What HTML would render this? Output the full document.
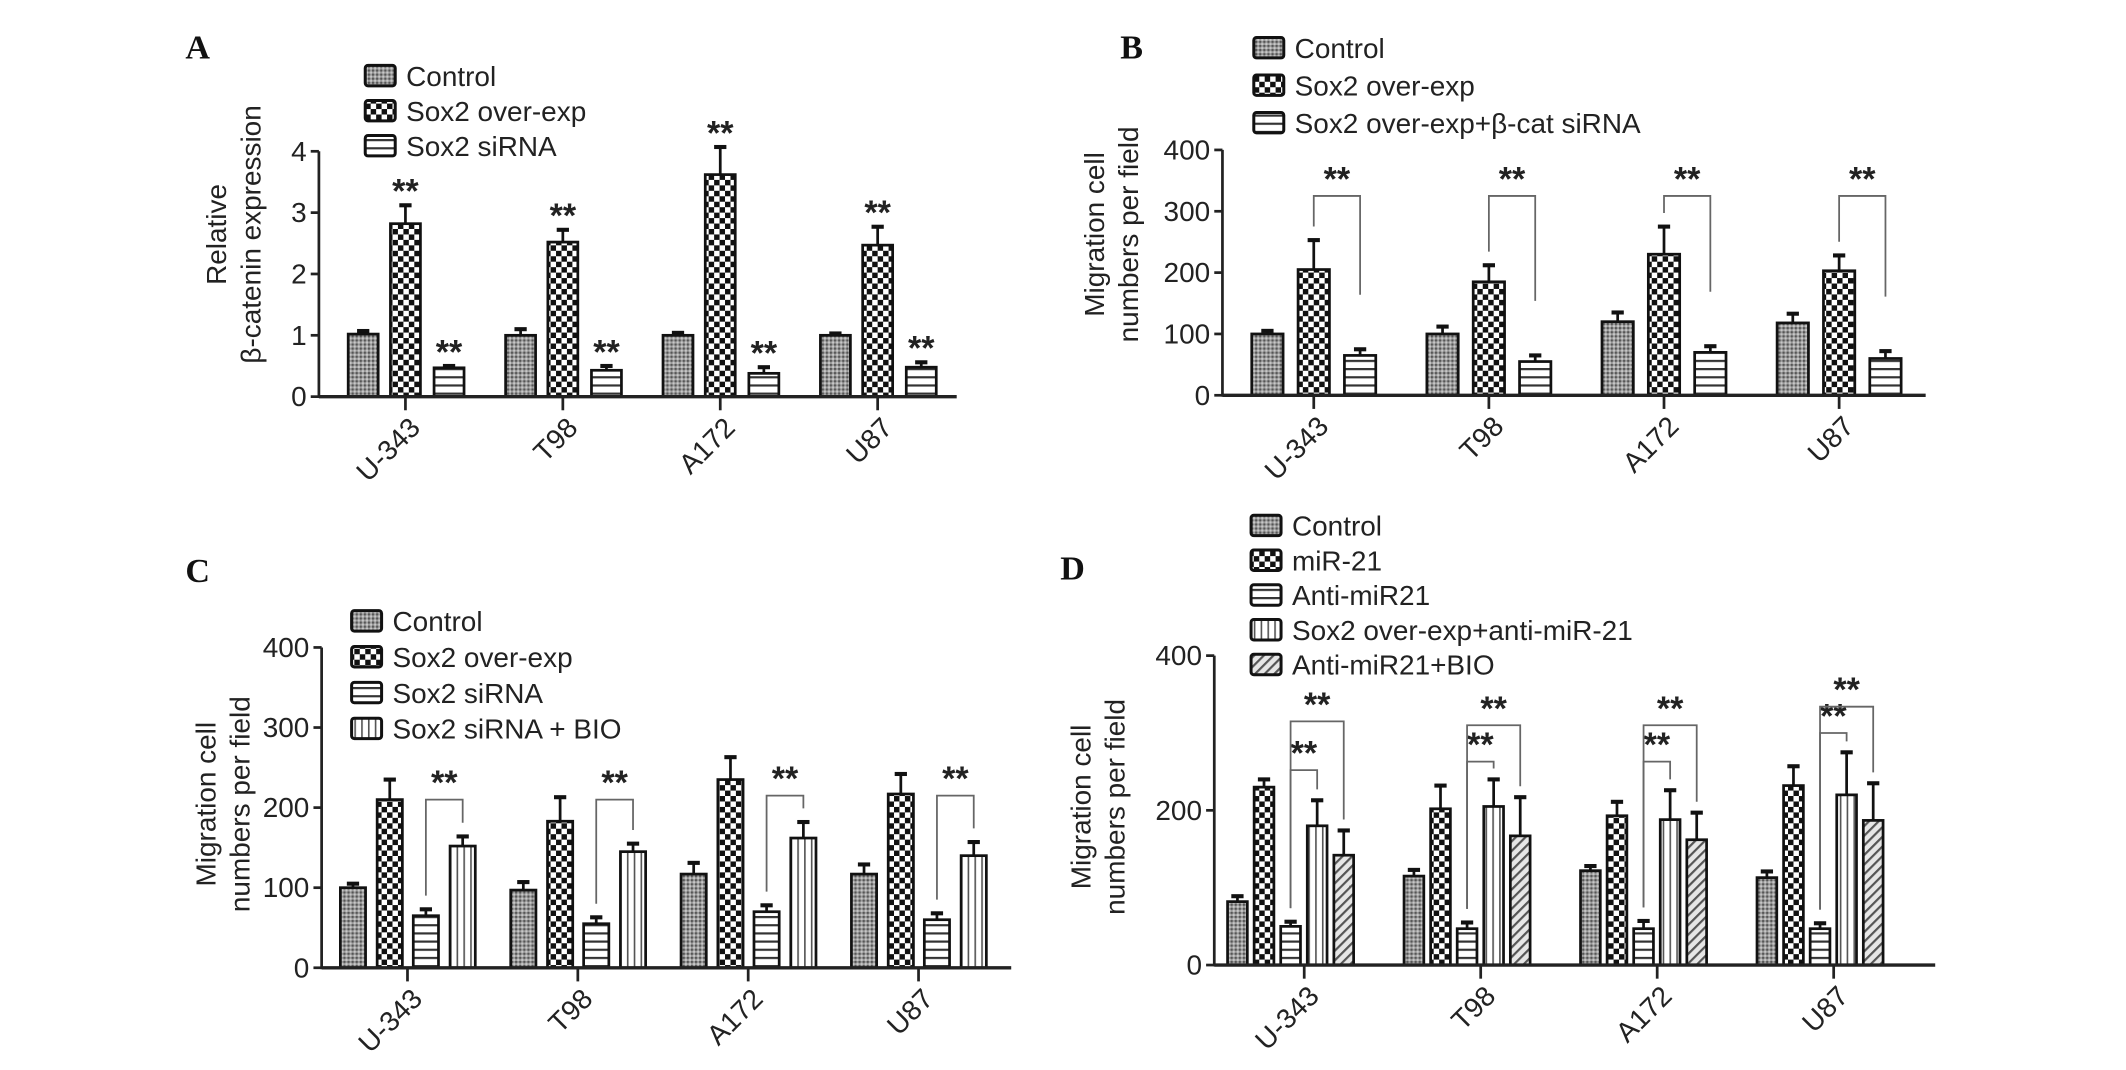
<!DOCTYPE html>
<html><head><meta charset="utf-8"><style>
html,body{margin:0;padding:0;background:#fff;}
svg{display:block;font-family:"Liberation Sans",Arial,sans-serif;}
</style></head><body>
<svg id="fig" width="2126" height="1070" viewBox="0 0 1560 785" preserveAspectRatio="none" xmlns="http://www.w3.org/2000/svg">
<defs>
<pattern id="p-ctrl" width="3" height="3" patternUnits="userSpaceOnUse"><rect width="3" height="3" fill="#9a9a9a"/><rect width="1.5" height="1.5" fill="#555"/><rect x="1.5" y="1.5" width="1.5" height="1.5" fill="#c8c8c8"/></pattern>
<pattern id="p-chk" width="8" height="8" patternUnits="userSpaceOnUse"><rect width="8" height="8" fill="#fff"/><rect width="4" height="4" fill="#111"/><rect x="4" y="4" width="4" height="4" fill="#111"/></pattern>
<pattern id="p-hs" width="6" height="6" patternUnits="userSpaceOnUse"><rect width="6" height="6" fill="#fff"/><rect y="0" width="6" height="1.6" fill="#333"/></pattern>
<pattern id="p-vs" width="5" height="5" patternUnits="userSpaceOnUse"><rect width="5" height="5" fill="#fff"/><rect x="0" width="1.2" height="5" fill="#555"/></pattern>
<pattern id="p-dg" width="5" height="5" patternUnits="userSpaceOnUse" patternTransform="rotate(45)"><rect width="5" height="5" fill="#e6e6e6"/><rect width="1.6" height="5" fill="#555"/></pattern>
</defs>
</svg>
<script>
// ---- Data ----
const categories = ["U-343","T98","A172","U87"];
// Panel A
const aSeries = ["Control","Sox2 over-exp","Sox2 siRNA"];
const aControl = [1.02,1.0,1.0,1.0];
const aOverexp = [2.82,2.52,3.62,2.47];
const aSiRNA = [0.47,0.43,0.38,0.48];
const aErrControl = [0.05,0.1,0.04,0.03];
const aErrOverexp = [0.3,0.2,0.45,0.3];
const aErrSiRNA = [0.03,0.07,0.1,0.08];
const aTicks = [0,1,2,3,4];
// Panel B
const bSeries = ["Control","Sox2 over-exp","Sox2 over-exp+\u03b2-cat siRNA"];
const bControl = [100,100,120,118];
const bOverexp = [205,185,230,203];
const bCatSiRNA = [65,55,70,60];
const bErrControl = [5,12,15,15];
const bErrOverexp = [48,27,45,25];
const bErrCatSiRNA = [10,10,10,12];
const bBracketLevel = [325,325,325,325];
const bTicks = [0,100,200,300,400];
// Panel C
const cSeries = ["Control","Sox2 over-exp","Sox2 siRNA","Sox2 siRNA + BIO"];
const cControl = [100,97,117,117];
const cOverexp = [210,183,235,217];
const cSiRNA = [65,55,70,60];
const cBIO = [152,145,162,140];
const cErrControl = [5,10,14,12];
const cErrOverexp = [25,30,28,25];
const cErrSiRNA = [8,8,8,8];
const cErrBIO = [12,10,20,17];
const cBracketLevel = [210,210,215,215];
const cTicks = [0,100,200,300,400];
// Panel D
const dSeries = ["Control","miR-21","Anti-miR21","Sox2 over-exp+anti-miR-21","Anti-miR21+BIO"];
const dControl = [82,115,122,113];
const dMiR21 = [230,202,193,232];
const dAnti = [50,47,47,47];
const dSoxAnti = [180,205,188,220];
const dAntiBIO = [142,167,162,187];
const dErrControl = [7,8,6,8];
const dErrMiR21 = [10,30,18,25];
const dErrAnti = [6,8,10,7];
const dErrSoxAnti = [33,35,38,55];
const dErrAntiBIO = [32,50,35,48];
const dBracketLow = [252,263,263,300];
const dBracketHigh = [315,310,310,334];
const dTicks = [0,200,400];

// ---- Rendering ----
const svg = document.getElementById('fig');
const NS = 'http://www.w3.org/2000/svg';
function mk(tag, attrs, parent){
  const e = document.createElementNS(NS, tag);
  for (const k in attrs) e.setAttribute(k, attrs[k]);
  (parent||svg).appendChild(e);
  return e;
}
function panel(cfg){
  const g = mk('g', {});
  
  
  const y = v => cfg.y0 - (v - 0) / cfg.ymax * (cfg.y0 - cfg.yTop);
  const x = i => cfg.gx0 + i * cfg.gstep;
  const L = mk('text', {x: cfg.letter[0], y: cfg.letter[1], 'font-family': '"Liberation Serif",serif', 'font-weight': 'bold', 'font-size': 25, fill: '#111'}, g);
  L.textContent = cfg.letterText;
  
  
  const yt = mk('text', {transform: `translate(${cfg.ytX},${cfg.ytY}) rotate(-90)`, 'text-anchor': 'middle', 'font-size': 20.5, fill: '#222'}, g);
  
  
  cfg.ytLines.forEach((t, i) => {
    const ts = mk('tspan', {x: 0, dy: i === 0 ? 0 : 25}, yt);
    ts.textContent = t;
  });
  cfg.series.forEach((vals, s) => {
    vals.forEach((v, i) => {
      const cx = x(i) + cfg.offsets[s];
      const top = y(v), er = y(v + cfg.errs[s][i]);
      const ln = mk('line', {x1: cx, x2: cx, y1: top, y2: er, stroke: '#111', 'stroke-width': 2}, g);
      
      
      const cap = mk('line', {x1: cx - 4.5, x2: cx + 4.5, y1: er, y2: er, stroke: '#111', 'stroke-width': 3}, g);
      
      
      const r = mk('rect', {x: cx - cfg.bw / 2, y: top, width: cfg.bw, height: cfg.y0 - top, fill: `url(#${cfg.pats[s]})`, stroke: '#111', 'stroke-width': 2}, g);
      
      
    });
  });
  const ya = mk('line', {x1: cfg.ax, x2: cfg.ax, y1: y(cfg.ticks[cfg.ticks.length - 1]), y2: cfg.y0 + 1, stroke: '#222', 'stroke-width': 2}, g);
  
  
  const xa = mk('line', {x1: cfg.ax, x2: cfg.axEnd, y1: cfg.y0, y2: cfg.y0, stroke: '#222', 'stroke-width': 2.5}, g);
  
  
  cfg.ticks.forEach(t => {
    const tk = mk('line', {x1: cfg.ax - 6, x2: cfg.ax, y1: y(t), y2: y(t), stroke: '#222', 'stroke-width': 2}, g);
    
    
    const tl = mk('text', {x: cfg.ax - 9, y: y(t) + 7, 'text-anchor': 'end', 'font-size': 20.5, fill: '#222'}, g);
    tl.textContent = t;
    
    
  });
  categories.forEach((c, i) => {
    const tx = x(i) + cfg.tickOff;
    const tk = mk('line', {x1: tx, x2: tx, y1: cfg.y0, y2: cfg.y0 + 10, stroke: '#222', 'stroke-width': 2}, g);
    
    
    const tl = mk('text', {transform: `translate(${tx + 12},${cfg.y0 + 24}) rotate(-45)`, 'text-anchor': 'end', 'font-size': 20.5, fill: '#222'}, g);
    tl.textContent = c;
    
    
  });
  (cfg.stars || []).forEach(s => {
    cfg.series[s].forEach((v, i) => {
      const st = mk('text', {x: x(i) + cfg.offsets[s], y: y(v + cfg.errs[s][i]) - 2, 'text-anchor': 'middle', 'font-size': 25, 'font-weight': 'bold', fill: '#222'}, g);
      st.textContent = '**';
      
      
    });
  });
  (cfg.brackets || []).forEach(b => {
    b.levels.forEach((lv, i) => {
      const x1 = x(i) + cfg.offsets[b.from], x2 = x(i) + cfg.offsets[b.to];
      const yl = y(lv);
      const y1 = y(cfg.series[b.from][i] + cfg.errs[b.from][i]) - 10;
      const y2 = y(cfg.series[b.to][i] + cfg.errs[b.to][i]) - (b.gapTo || 10);
      const p = mk('path', {d: `M${x1},${y1}V${yl}H${x2}V${y2}`, fill: 'none', stroke: '#666', 'stroke-width': 1.3}, g);
      
      
      const st = mk('text', {x: (x1 + x2) / 2, y: yl - 4, 'text-anchor': 'middle', 'font-size': 25, 'font-weight': 'bold', fill: '#222'}, g);
      st.textContent = '**';
      
      
    });
  });
  cfg.legendNames.forEach((n, s) => {
    const ly = cfg.legend[1] + s * cfg.legendStep;
    const lg = mk('g', {}, g);
    
    
    mk('rect', {x: cfg.legend[0], y: ly - 8, width: 22, height: 15, fill: `url(#${cfg.pats[s]})`, stroke: '#111', 'stroke-width': 2.2, rx: 2}, lg);
    const t = mk('text', {x: cfg.legend[0] + 30, y: ly + 7, 'font-size': 20.5, fill: '#222'}, lg);
    t.textContent = n;
  });
}

panel({name: 'panel-a-chart', letterText: 'A', letter: [136, 43], ytX: 166, ytY: 172, ytLines: ['Relative', '\u03b2-catenin expression'],
  ax: 234, axEnd: 702, y0: 291, yTop: 111, ymax: 4, ticks: aTicks,
  gx0: 297.5, gstep: 115.5, offsets: [-31, 0, 32], bw: 22, tickOff: 0,
  series: [aControl, aOverexp, aSiRNA], errs: [aErrControl, aErrOverexp, aErrSiRNA],
  pats: ['p-ctrl', 'p-chk', 'p-hs'], stars: [1, 2],
  legendNames: aSeries, legend: [268, 56], legendStep: 25.7});

panel({name: 'panel-b-chart', letterText: 'B', letter: [822, 43], ytX: 810, ytY: 172, ytLines: ['Migration cell', 'numbers per field'],
  ax: 897, axEnd: 1413, y0: 290, yTop: 110, ymax: 400, ticks: bTicks,
  gx0: 964, gstep: 128.5, offsets: [-34, 0, 34], bw: 23, tickOff: 0,
  series: [bControl, bOverexp, bCatSiRNA], errs: [bErrControl, bErrOverexp, bErrCatSiRNA],
  pats: ['p-ctrl', 'p-chk', 'p-hs'],
  brackets: [{from: 1, to: 2, levels: bBracketLevel, gapTo: 40}],
  legendNames: bSeries, legend: [920, 35.5], legendStep: 27.5});

panel({name: 'panel-c-chart', letterText: 'C', letter: [136, 427], ytX: 158, ytY: 590, ytLines: ['Migration cell', 'numbers per field'],
  ax: 236, axEnd: 742, y0: 710, yTop: 475, ymax: 400, ticks: cTicks,
  gx0: 299, gstep: 125, offsets: [-40, -13, 13.5, 40.5], bw: 18.5, tickOff: 0,
  series: [cControl, cOverexp, cSiRNA, cBIO], errs: [cErrControl, cErrOverexp, cErrSiRNA, cErrBIO],
  pats: ['p-ctrl', 'p-chk', 'p-hs', 'p-vs'],
  brackets: [{from: 2, to: 3, levels: cBracketLevel, gapTo: 10}],
  legendNames: cSeries, legend: [258, 456], legendStep: 26.3});

panel({name: 'panel-d-chart', letterText: 'D', letter: [778, 425], ytX: 800, ytY: 592, ytLines: ['Migration cell', 'numbers per field'],
  ax: 891, axEnd: 1420, y0: 708, yTop: 481, ymax: 400, ticks: dTicks,
  gx0: 947, gstep: 129.5, offsets: [-39, -19.5, 0, 19.5, 39], bw: 14.5, tickOff: 10,
  series: [dControl, dMiR21, dAnti, dSoxAnti, dAntiBIO], errs: [dErrControl, dErrMiR21, dErrAnti, dErrSoxAnti, dErrAntiBIO],
  pats: ['p-ctrl', 'p-chk', 'p-hs', 'p-vs', 'p-dg'],
  brackets: [{from: 2, to: 3, levels: dBracketLow, gapTo: 8}, {from: 2, to: 4, levels: dBracketHigh, gapTo: 8}],
  legendNames: dSeries, legend: [918, 386], legendStep: 25.5});
</script>
</body></html>
